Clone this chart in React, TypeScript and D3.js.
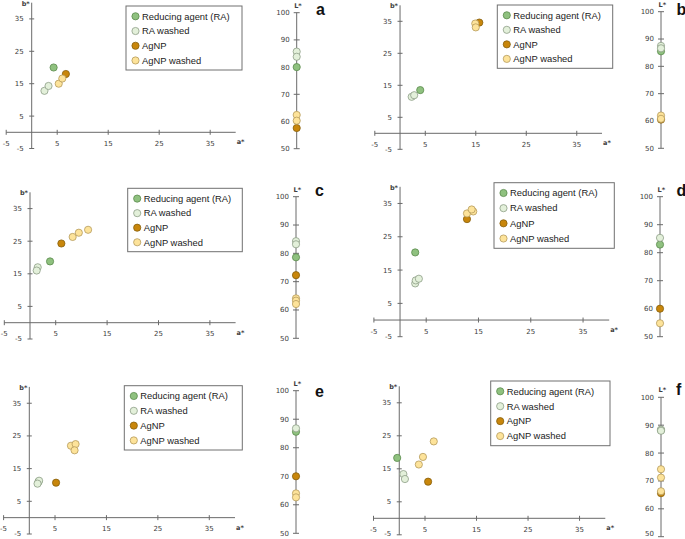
import React from 'react';
import * as d3 from 'd3';

// series (legend order = draw order)
const seriesNames = ['Reducing agent (RA)', 'RA washed', 'AgNP', 'AgNP washed'];
const seriesFill = ['#8fc17f', '#e3f0da', '#c8860b', '#fde39a'];
const seriesStroke = ['#5b8a4c', '#8d9d86', '#87600c', '#b59b5c'];

const abTicks = [-5, 5, 15, 25, 35];
const lTicks = [50, 60, 70, 80, 90, 100];

// [series index, a*, b*]
const abA = [[0, 4.3, 20.0], [1, 2.5, 12.8], [1, 3.3, 14.3], [2, 6.7, 18.0], [3, 5.3, 15.0], [3, 6.0, 16.6]];
const abB = [[0, 4.0, 13.5], [1, 2.3, 11.4], [1, 2.8, 11.9], [2, 15.7, 34.6], [3, 14.9, 34.3], [3, 15.0, 33.1]];
const abC = [[0, 3.9, 18.8], [1, 1.5, 17.0], [1, 1.3, 16.0], [2, 6.1, 24.3], [3, 8.3, 26.3], [3, 9.5, 27.6], [3, 11.3, 28.5]];
const abD = [[0, 2.9, 20.3], [1, 2.9, 11.0], [1, 3.0, 11.9], [1, 3.6, 12.4], [2, 12.8, 30.3], [3, 12.8, 32.0], [3, 14.0, 32.6], [3, 13.7, 33.2]];
const abE = [[0, 1.8, 11.0], [1, 1.9, 11.3], [1, 1.6, 10.4], [2, 5.2, 10.7], [3, 8.1, 22.0], [3, 9.0, 22.5], [3, 8.8, 20.6]];
const abF = [[0, -0.4, 18.3], [1, 0.8, 13.4], [1, 1.1, 11.9], [2, 5.6, 11.1], [3, 3.8, 16.3], [3, 4.6, 18.6], [3, 6.7, 23.3]];

// [series index, L*]
const lA = [[0, 80.0], [1, 85.7], [1, 83.8], [2, 57.6], [3, 62.4], [3, 60.3]];
const lB = [[0, 85.5], [1, 87.5], [1, 86.6], [2, 60.5], [3, 62.0], [3, 60.8]];
const lC = [[0, 78.6], [1, 84.3], [1, 83.2], [2, 72.3], [3, 64.1], [3, 63.3], [3, 62.1]];
const lD = [[0, 82.9], [1, 85.3], [2, 60.0], [3, 54.8]];
const lE = [[0, 85.6], [1, 86.8], [2, 70.0], [3, 64.0], [3, 62.6]];
const lF = [[0, 88.2], [1, 88.4], [1, 88.0], [2, 65.6], [3, 66.3], [3, 71.2], [3, 74.2]];

// layout of each panel in page pixels
const panels = [
  { id: 'a', ab: abA, L: lA, xr: [6.2, 235.7], yr: [148.5, 2.7], lx: 296.7, lr: [148.7, 12.7], leg: [126, 6, 116, 64], letter: [316, 15] },
  { id: 'b', ab: abB, L: lB, xr: [374.8, 602], yr: [149.3, 5.3], lx: 661, lr: [148.3, 11.7], leg: [497.3, 5, 115.4, 63.3], letter: [676.5, 15] },
  { id: 'c', ab: abC, L: lC, xr: [4.3, 235.6], yr: [339, 192.3], lx: 296, lr: [338.3, 196.7], leg: [127.7, 188.3, 114.6, 63.4], letter: [315, 196] },
  { id: 'd', ab: abD, L: lD, xr: [373.9, 609.2], yr: [336.7, 186.8], lx: 660, lr: [336.7, 196.7], leg: [494, 182.7, 120.3, 65.6], letter: [676.5, 196] },
  { id: 'e', ab: abE, L: lE, xr: [3.6, 235], yr: [534, 386.9], lx: 296, lr: [533.3, 390.7], leg: [124.3, 385.7, 118, 64.3], letter: [315, 396.5] },
  { id: 'f', ab: abF, L: lF, xr: [373.5, 605.3], yr: [534.8, 386.3], lx: 661, lr: [536.7, 397.3], leg: [490.7, 381, 119.3, 64.7], letter: [676, 395] },
];

const AXIS = '#6a6a6a';
const LABEL = '#404040';
const tickFont = { fontFamily: 'DejaVu Sans, Verdana, sans-serif', fontSize: 7, fill: LABEL };

const Panel = ({ p }) => {
  const x = d3.scaleLinear().domain([-5, 40]).range(p.xr);
  const y = d3.scaleLinear().domain([-5, 40]).range(p.yr);
  const l = d3.scaleLinear().domain([50, 100]).range(p.lr);
  const x0 = x(0);
  const y0 = y(0);
  const [lgX, lgY, lgW, lgH] = p.leg;
  const step = (lgH - 11) / 3.6;

  return (
    <g>
      {/* a* axis */}
      <line x1={x(-5)} x2={x(40)} y1={y0} y2={y0} stroke={AXIS} strokeWidth={1} />
      {abTicks.map((t) => (
        <g key={'x' + t}>
          <line x1={x(t)} x2={x(t)} y1={y0 - 2.5} y2={y0 + 2.5} stroke={AXIS} />
          <text x={x(t)} y={y0 + 13.5} textAnchor="middle" {...tickFont}>{t}</text>
        </g>
      ))}
      <text x={x(40) + 1} y={y0 + 12} {...tickFont} fontWeight="bold" fontSize={6.5}>a*</text>

      {/* b* axis */}
      <line x1={x0} x2={x0} y1={y(-5)} y2={y(40)} stroke={AXIS} strokeWidth={1} />
      {abTicks.map((t) => (
        <g key={'y' + t}>
          <line x1={x0 - 2.5} x2={x0 + 2.5} y1={y(t)} y2={y(t)} stroke={AXIS} />
          <text x={x0 - 8} y={Math.min(y(t), 533.5)} dy="0.35em" textAnchor="end" {...tickFont}>{t}</text>
        </g>
      ))}
      <text x={x0 - 2} y={y(40) + 3} textAnchor="end" {...tickFont} fontWeight="bold" fontSize={6.5}>b*</text>

      {/* a*b* points */}
      {p.ab.map(([s, a, b], i) => (
        <circle key={'p' + i} cx={x(a)} cy={y(b)} r={3.6} fill={seriesFill[s]} stroke={seriesStroke[s]} strokeWidth={0.8} />
      ))}

      {/* legend */}
      <rect x={lgX} y={lgY} width={lgW} height={lgH} fill="#fff" stroke="#707070" strokeWidth={1} />
      {seriesNames.map((name, i) => (
        <g key={name}>
          <circle cx={lgX + 9.5} cy={lgY + 10.3 + i * step} r={3.6} fill={seriesFill[i]} stroke={seriesStroke[i]} strokeWidth={0.8} />
          <text x={lgX + 16} y={lgY + 10.3 + i * step} dy="0.35em" fontFamily="Liberation Sans, Arial, sans-serif" fontSize={9.4} fill="#222">
            {name}
          </text>
        </g>
      ))}

      {/* L* axis */}
      <line x1={p.lx} x2={p.lx} y1={l(50)} y2={l(100)} stroke={AXIS} strokeWidth={1} />
      {lTicks.map((t) => (
        <g key={'l' + t}>
          <line x1={p.lx - 3} x2={p.lx + 3} y1={l(t)} y2={l(t)} stroke={AXIS} />
          <text x={p.lx - 7} y={Math.min(l(t), 533.5)} dy="0.35em" textAnchor="end" {...tickFont}>{t}</text>
        </g>
      ))}
      <text x={p.lx - 2.5} y={l(100) - 5} {...tickFont} fontWeight="bold" fontSize={6.5}>L*</text>
      {p.L.map(([s, v], i) => (
        <circle key={'L' + i} cx={p.lx} cy={l(v)} r={3.6} fill={seriesFill[s]} stroke={seriesStroke[s]} strokeWidth={0.8} />
      ))}

      <text x={p.letter[0]} y={p.letter[1]} fontFamily="Liberation Sans, Arial, sans-serif" fontWeight="bold" fontSize={16} fill="#111">
        {p.id}
      </text>
    </g>
  );
};

export default function App() {
  return (
    <svg
      width={685}
      height={539}
      style={{ position: 'absolute', left: 0, top: 0, background: '#fff' }}
    >
      {panels.map((p) => (
        <Panel key={p.id} p={p} />
      ))}
    </svg>
  );
}
